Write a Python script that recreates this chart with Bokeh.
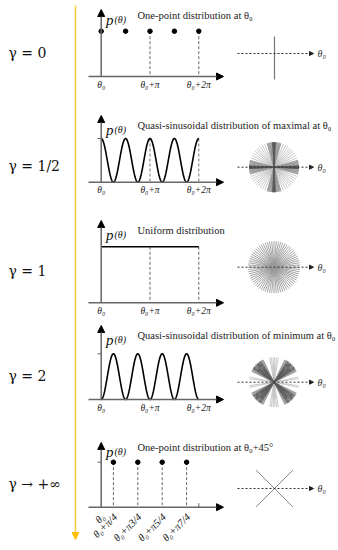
import numpy as np
from bokeh.plotting import figure
from bokeh.models import Range1d, Arrow, NormalHead
from bokeh.core.properties import value
from bokeh.embed import file_html
from bokeh.resources import INLINE

# ---------------- data ----------------
gamma_labels = ["γ = 0", "γ = 1/2", "γ = 1", "γ = 2", "γ → +∞"]
panel_titles = ["One-point distribution at θ₀",
                "Quasi-sinusoidal distribution of maximal at θ₀",
                "Uniform distribution",
                "Quasi-sinusoidal distribution of minimum at θ₀",
                "One-point distribution at  θ₀+45°"]
# angles in units of pi, densities relative to peak
onepoint_g0_theta = [0, 0.5, 1, 1.5, 2]
onepoint_g0_p = [1, 1, 1, 1, 1]
onepoint_inf_theta = [0.25, 0.75, 1.25, 1.75]
onepoint_inf_p = [1, 1, 1, 1]
dashed_main = [1, 2]
uniform_range = [0, 2]
uniform_level = [1, 1]
tick_pos_main = [0, 1, 2]
tick_lab_main = ["θ₀", "θ₀+π", "θ₀+2π"]
tick_pos_inf = [0, 0.25, 0.75, 1.25, 1.75]
tick_lab_inf = ["θ₀", "θ₀+π/4", "θ₀+π3/4", "θ₀+π5/4", "θ₀+π7/4"]

# icon rays (degrees, full lines through the centre)
icon_g0 = [90]
icon_half_dark = [-3, -2, -1, 0, 1, 2, 3, 87, 88, 89, 90, 91, 92, 93]
icon_half_mid = [-16, -14, -12, -10, -8, -6, -4, 4, 6, 8, 10, 12, 14, 16,
                 74, 76, 78, 80, 82, 84, 86, 94, 96, 98, 100, 102, 104, 106]
icon_half_light = [22, 28, 34, 40, 45, 50, 56, 62, 68, 112, 118, 124, 130, 135, 140, 146, 152, 158]
icon_uniform = [0, 5, 10, 15, 20, 25, 30, 35, 40, 45, 50, 55, 60, 65, 70, 75, 80, 85,
                90, 95, 100, 105, 110, 115, 120, 125, 130, 135, 140, 145, 150, 155, 160, 165, 170, 175]
icon_two_dark = [33, 35, 37, 39, 41, 43, 45, 47, 49, 51, 53, 55, 57,
                 123, 125, 127, 129, 131, 133, 135, 137, 139, 141, 143, 145, 147]
icon_two_mid = [26, 28, 30, 31, 59, 60, 62, 64, 116, 118, 120, 121, 149, 150, 152, 154]
icon_two_light = [80, 84, 88, 92, 96, 100, 8, 12, 168, 172]
icon_inf = [45, 135]

# ---------------- layout ----------------
X0 = 100.7
PI_PX = 48.8
base = [76, 181.7, 302.3, 399, 506.7]
ytop = [9, 115, 220, 325, 442]
amp = [45.3, 43.7, 56, 45.7, 45]
title_y = [15, 125, 230, 335, 447]
gam_y = [52, 165, 270, 375, 483]
arrow_y = [53, 166.7, 266.7, 381.7, 488]
ICX = 273.5

def X(t):
    return X0 + np.asarray(t, dtype=float) * PI_PX

def Y(i, pv):
    return base[i] - np.asarray(pv, dtype=float) * amp[i]

p = figure(width=338, height=550, x_range=Range1d(0, 338), y_range=Range1d(550, 0),
           output_backend="svg", toolbar_location=None, min_border=0)
p.axis.visible = False
p.grid.visible = False
p.outline_line_color = None
p.background_fill_color = "white"

SERIF = value("Liberation Serif")

# yellow timeline
p.add_layout(Arrow(x_start=75, y_start=5, x_end=75, y_end=539,
                   line_color="#FFC93C", line_width=1.5,
                   end=NormalHead(size=7, fill_color="#FFC000", line_color="#FFC000")))

# gamma labels
p.text(x=[8] * 5, y=gam_y, text=gamma_labels, text_font=value("DejaVu Serif"),
       text_font_size="14px", text_baseline="middle", text_align="left", text_color="#111")

for i in range(5):
    # axes
    p.add_layout(Arrow(x_start=88, y_start=base[i], x_end=223, y_end=base[i],
                       line_color="#666", line_width=1.5,
                       end=NormalHead(size=7, fill_color="black", line_color="black")))
    p.add_layout(Arrow(x_start=X0, y_start=base[i], x_end=X0, y_end=ytop[i],
                       line_color="#666", line_width=1.5,
                       end=NormalHead(size=7, fill_color="black", line_color="black")))
    # p(theta) and title
    p.text(x=[105.5], y=[title_y[i] + 4], text=["p"], text_font=SERIF, text_font_size="15px",
           text_font_style="italic", text_baseline="alphabetic", text_color="#111")
    p.text(x=[114], y=[title_y[i] + 4], text=["(θ)"], text_font=SERIF, text_font_size="10px",
           text_font_style="italic", text_baseline="alphabetic", text_color="#111")
    p.text(x=[137], y=[title_y[i]], text=[panel_titles[i]], text_font=SERIF,
           text_font_size="10.5px", text_baseline="middle", text_color="#222")
    # icon arrow
    p.add_layout(Arrow(x_start=237, y_start=arrow_y[i], x_end=313, y_end=arrow_y[i],
                       line_color="#333", line_width=1, line_dash="2 2",
                       end=NormalHead(size=4, fill_color="#222", line_color="#222")))
    p.text(x=[317], y=[arrow_y[i]], text=["θ₀"], text_font=SERIF, text_font_size="10px",
           text_font_style="italic", text_baseline="middle", text_color="#333")
    # tick labels
    if i < 4:
        p.text(x=X(tick_pos_main), y=[base[i] + 3] * 3, text=tick_lab_main, text_font=SERIF,
               text_font_size="9.5px", text_font_style="italic", text_align="center",
               text_baseline="top", text_color="#222")

def rays(angles, cx, cy, r, color, width=1.0, alpha=1.0):
    a = np.deg2rad(np.asarray(angles, dtype=float))
    p.segment(x0=cx - r * np.cos(a), y0=cy - r * np.sin(a), x1=cx + r * np.cos(a), y1=cy + r * np.sin(a),
              line_color=color, line_width=width, line_alpha=alpha)

# ---- panel 0: gamma = 0
p.segment(x0=X(dashed_main), y0=Y(0, [1, 1]), x1=X(dashed_main), y1=[base[0]] * 2,
          line_color="#666", line_dash="3 2", line_width=1)
p.scatter(X(onepoint_g0_theta), Y(0, onepoint_g0_p), size=4.5, color="black")
rays(icon_g0, 274, 57.5, 21.5, "#777", 1.2)

# ---- panel 1: gamma = 1/2
t = np.linspace(0, 2, 241)
p_half = (1 + np.cos(4 * np.pi * t)) / 2
p.segment(x0=X(dashed_main), y0=Y(1, [1, 1]), x1=X(dashed_main), y1=[base[1]] * 2,
          line_color="#777", line_dash="3 2", line_width=1)
p.line(X(t), Y(1, p_half), line_color="black", line_width=1.6)
p.segment(x0=[97], y0=Y(1, [1]), x1=[X0], y1=Y(1, [1]), line_color="#666", line_width=1)
rays(icon_half_light, ICX, arrow_y[1], 25, "#bbbbbb", 0.8)
rays(icon_half_mid, ICX, arrow_y[1], 25, "#9a9a9a", 1.0)
rays(icon_half_dark, ICX, arrow_y[1], 25, "#5a5a5a", 1.0)

# ---- panel 2: gamma = 1
p.segment(x0=X(dashed_main), y0=Y(2, [1, 1]), x1=X(dashed_main), y1=[base[2]] * 2,
          line_color="#666", line_dash="3 2", line_width=1)
p.line(X(uniform_range), Y(2, uniform_level), line_color="black", line_width=1.5)
rays(icon_uniform, ICX, arrow_y[2], 26, "#9a9a9a", 0.9)

# ---- panel 3: gamma = 2
p_two = (1 - np.cos(4 * np.pi * t)) / 2
p.line(X(t), Y(3, p_two), line_color="black", line_width=1.6)
p.segment(x0=[97], y0=Y(3, [1]), x1=[X0], y1=Y(3, [1]), line_color="#666", line_width=1)
rays(icon_two_light, ICX, arrow_y[3], 25, "#bbbbbb", 0.8)
rays(icon_two_mid, ICX, arrow_y[3], 25, "#9a9a9a", 1.0)
rays(icon_two_dark, ICX, arrow_y[3], 25, "#5a5a5a", 1.0)

# ---- panel 4: gamma -> inf
p.segment(x0=X(onepoint_inf_theta), y0=Y(4, onepoint_inf_p), x1=X(onepoint_inf_theta),
          y1=[base[4]] * 4, line_color="#666", line_dash="3 2", line_width=1)
p.scatter(X(onepoint_inf_theta), Y(4, onepoint_inf_p), size=4.5, color="black")
p.segment(x0=[97], y0=Y(4, [1]), x1=[X0], y1=Y(4, [1]), line_color="#666", line_width=1)
p.segment(x0=X([2]), y0=[base[4] - 4], x1=X([2]), y1=[base[4]], line_color="#666", line_width=1)
p.text(x=X(tick_pos_inf) + 2, y=[base[4] + 8] * 5, text=tick_lab_inf, text_font=SERIF,
       text_font_size="10.5px", text_font_style="italic", text_align="right",
       text_baseline="middle", angle=np.pi / 4, text_color="#222")
rays(icon_inf, 274, arrow_y[4], 26, "#888", 1.0)

open("out.html", "w").write(file_html(p, INLINE))
